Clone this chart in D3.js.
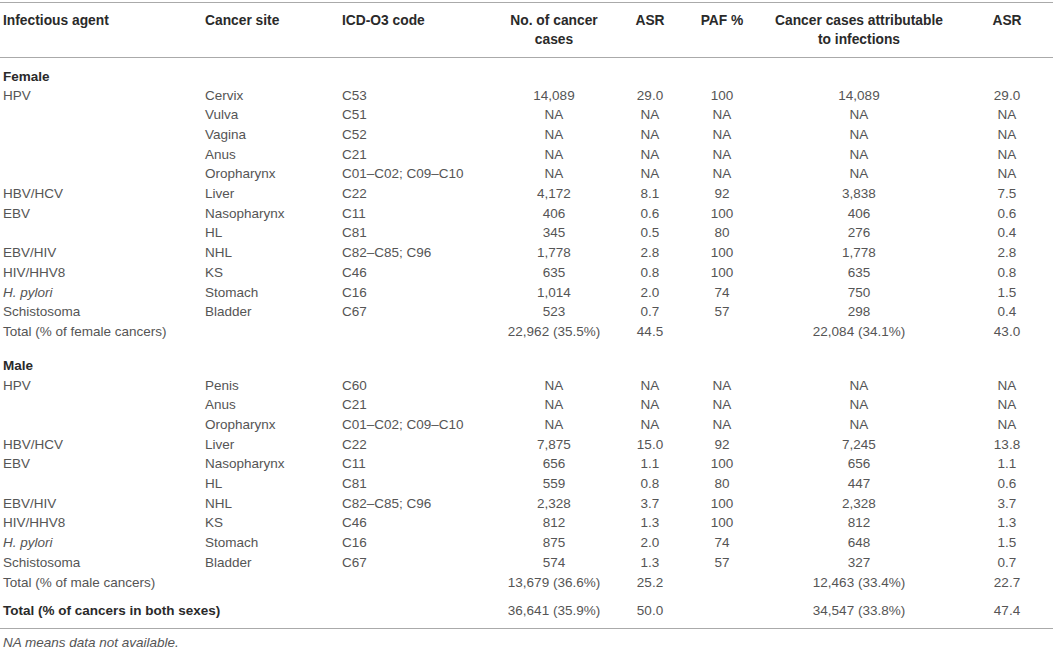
<!DOCTYPE html>
<html lang="en">
  <head>
    <meta charset="UTF-8" />
    <title>Cancers attributable to infections</title>
    <style>
      body {
        margin: 0;
        background: #fff;
      }

      svg text {
        font-family: 'Liberation Sans', Arial, sans-serif;
        font-size: 13.5px;
        fill: #555;
      }

      svg text.bold {
        font-weight: bold;
        fill: #2a2a2a;
      }

      svg text.head {
        font-size: 13.8px;
      }

      .rule {
        stroke: #aaa;
        stroke-width: 1.2px;
      }
    </style>
  </head>
  <body>
    <svg width="1055" height="650"></svg>

    <script src="https://cdn.jsdelivr.net/npm/d3@7"></script>
    <script>
      // column headers (second line where the header wraps)
      const headers = [
        ['Infectious agent'],
        ['Cancer site'],
        ['ICD-O3 code'],
        ['No. of cancer', 'cases'],
        ['ASR'],
        ['PAF %'],
        ['Cancer cases attributable', 'to infections'],
        ['ASR'],
      ];

      // female rows
      const femaleAgents = ['HPV', '', '', '', '', 'HBV/HCV', 'EBV', '', 'EBV/HIV', 'HIV/HHV8', 'H. pylori', 'Schistosoma'];
      const femaleSites = ['Cervix', 'Vulva', 'Vagina', 'Anus', 'Oropharynx', 'Liver', 'Nasopharynx', 'HL', 'NHL', 'KS', 'Stomach', 'Bladder'];
      const femaleCodes = ['C53', 'C51', 'C52', 'C21', 'C01–C02; C09–C10', 'C22', 'C11', 'C81', 'C82–C85; C96', 'C46', 'C16', 'C67'];
      const femaleCases = ['14,089', 'NA', 'NA', 'NA', 'NA', '4,172', '406', '345', '1,778', '635', '1,014', '523'];
      const femaleAsr = ['29.0', 'NA', 'NA', 'NA', 'NA', '8.1', '0.6', '0.5', '2.8', '0.8', '2.0', '0.7'];
      const femalePaf = ['100', 'NA', 'NA', 'NA', 'NA', '92', '100', '80', '100', '100', '74', '57'];
      const femaleAttr = ['14,089', 'NA', 'NA', 'NA', 'NA', '3,838', '406', '276', '1,778', '635', '750', '298'];
      const femaleAttrAsr = ['29.0', 'NA', 'NA', 'NA', 'NA', '7.5', '0.6', '0.4', '2.8', '0.8', '1.5', '0.4'];
      const femaleTotal = ['Total (% of female cancers)', '', '', '22,962 (35.5%)', '44.5', '', '22,084 (34.1%)', '43.0'];

      // male rows
      const maleAgents = ['HPV', '', '', 'HBV/HCV', 'EBV', '', 'EBV/HIV', 'HIV/HHV8', 'H. pylori', 'Schistosoma'];
      const maleSites = ['Penis', 'Anus', 'Oropharynx', 'Liver', 'Nasopharynx', 'HL', 'NHL', 'KS', 'Stomach', 'Bladder'];
      const maleCodes = ['C60', 'C21', 'C01–C02; C09–C10', 'C22', 'C11', 'C81', 'C82–C85; C96', 'C46', 'C16', 'C67'];
      const maleCases = ['NA', 'NA', 'NA', '7,875', '656', '559', '2,328', '812', '875', '574'];
      const maleAsr = ['NA', 'NA', 'NA', '15.0', '1.1', '0.8', '3.7', '1.3', '2.0', '1.3'];
      const malePaf = ['NA', 'NA', 'NA', '92', '100', '80', '100', '100', '74', '57'];
      const maleAttr = ['NA', 'NA', 'NA', '7,245', '656', '447', '2,328', '812', '648', '327'];
      const maleAttrAsr = ['NA', 'NA', 'NA', '13.8', '1.1', '0.6', '3.7', '1.3', '1.5', '0.7'];
      const maleTotal = ['Total (% of male cancers)', '', '', '13,679 (36.6%)', '25.2', '', '12,463 (33.4%)', '22.7'];

      const grandTotal = ['Total (% of cancers in both sexes)', '', '', '36,641 (35.9%)', '50.0', '', '34,547 (33.8%)', '47.4'];
      const footnote = 'NA means data not available.';

      const svg = d3.select('svg'),
        width = +svg.attr('width');

      // column anchor positions: first three left aligned, the rest centred
      const colX = d3.scaleOrdinal().domain(d3.range(8)).range([3, 205, 342, 554, 650, 722, 859, 1007]);
      const anchor = (i) => (i < 3 ? 'start' : 'middle');

      function toRows(cols) {
        return cols[0].map((_, r) => cols.map((c) => c[r]));
      }

      const femaleRows = toRows([femaleAgents, femaleSites, femaleCodes, femaleCases, femaleAsr, femalePaf, femaleAttr, femaleAttrAsr]);
      femaleRows.push(femaleTotal);
      const maleRows = toRows([maleAgents, maleSites, maleCodes, maleCases, maleAsr, malePaf, maleAttr, maleAttrAsr]);
      maleRows.push(maleTotal);

      const femaleY = d3.scaleLinear().domain([0, femaleRows.length - 1]).range([99.5, 336]);
      const maleY = d3.scaleLinear().domain([0, maleRows.length - 1]).range([389.5, 586.5]);

      // rules
      svg
        .selectAll('.rule')
        .data([2.5, 57.5, 628.5])
        .enter()
        .append('line')
        .attr('class', 'rule')
        .attr('x1', 0)
        .attr('x2', width - 2)
        .attr('y1', (d) => d)
        .attr('y2', (d) => d);

      // header
      const head = svg
        .selectAll('.head')
        .data(headers)
        .enter()
        .append('text')
        .attr('class', 'head bold')
        .attr('text-anchor', (d, i) => anchor(i))
        .attr('y', 25);
      head
        .selectAll('tspan')
        .data((d, i) => d.map((t) => ({ t: t, i: i })))
        .enter()
        .append('tspan')
        .attr('x', (d) => colX(d.i))
        .attr('dy', (d, j) => (j ? 19 : 0))
        .text((d) => d.t);

      // section labels
      svg
        .selectAll('.section')
        .data([
          ['Female', 81],
          ['Male', 370],
        ])
        .enter()
        .append('text')
        .attr('class', 'section bold')
        .attr('x', colX(0))
        .attr('y', (d) => d[1])
        .text((d) => d[0]);

      function drawRows(rows, y, boldFirst) {
        const g = svg.append('g');
        const row = g
          .selectAll('g')
          .data(rows)
          .enter()
          .append('g')
          .attr('transform', (d, r) => 'translate(0,' + y(r) + ')');
        row
          .selectAll('text')
          .data((d) => d.map((t, i) => ({ t: t, i: i })).filter((c) => c.t))
          .enter()
          .append('text')
          .attr('class', (c) => (boldFirst && c.i === 0 ? 'bold' : null))
          .attr('x', (c) => colX(c.i))
          .attr('text-anchor', (c) => anchor(c.i))
          .style('font-style', (c) => (c.t === 'H. pylori' ? 'italic' : null))
          .text((c) => c.t);
      }

      drawRows(femaleRows, femaleY, false);
      drawRows(maleRows, maleY, false);
      drawRows([grandTotal], () => 614.5, true);

      svg
        .append('text')
        .attr('x', colX(0))
        .attr('y', 647)
        .style('font-style', 'italic')
        .text(footnote);
    </script>
  </body>
</html>
